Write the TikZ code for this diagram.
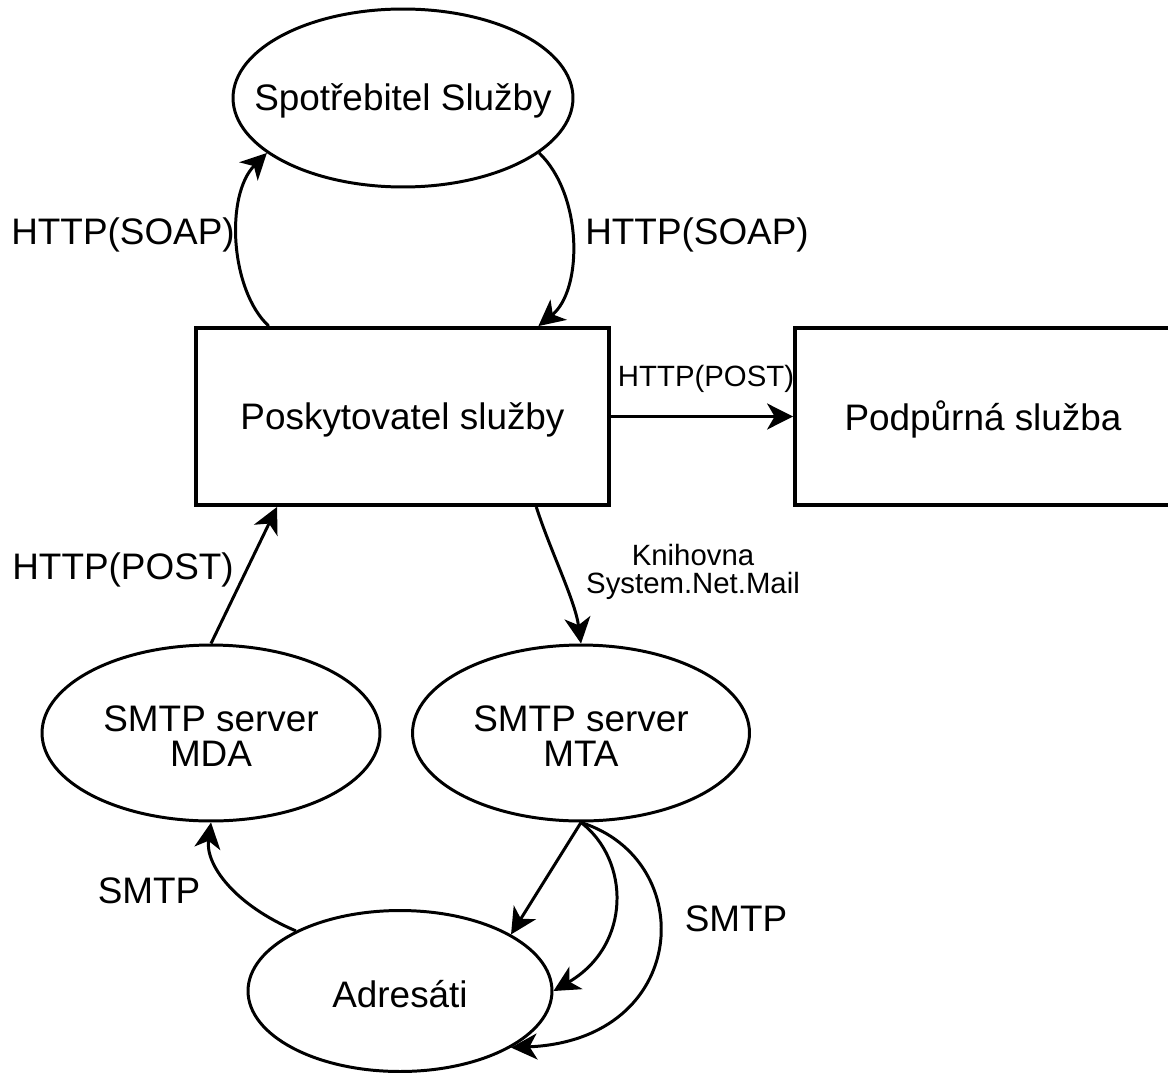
\documentclass[tikz,border=0pt]{standalone}
\usepackage{fontspec}
\setmainfont{Liberation Sans}
\usetikzlibrary{shapes.geometric,arrows.meta,calc}
\begin{document}
\begin{tikzpicture}[x=0.02cm,y=-0.02cm,
  ell/.style={ellipse,draw,line width=1.7pt,inner sep=0pt},
  box/.style={rectangle,draw,line width=2.2pt,inner sep=0pt},
  big/.style={font=\fontsize{21}{19.5}\selectfont,align=center,inner sep=0pt,yshift=-0.06cm},
  small/.style={font=\fontsize{16.7}{16}\selectfont,align=center,inner sep=0pt,yshift=-0.05cm},
  conn/.style={line width=1.7pt,-{Stealth[length=0.52cm,width=0.52cm,inset=0.15cm]}}]
\useasboundingbox (0,0) rectangle (1168,1074);
\clip (0,0) rectangle (1168,1074);

% shapes
\node[ell,minimum width=6.8cm,minimum height=3.56cm] (spot) at (403,98) {};
\node[big] (spott) at (spot) {Spotřebitel Služby};
\node[box,minimum width=8.26cm,minimum height=3.54cm] (prov) at (402.5,416.5) {};
\node[big] (provt) at (prov) {Poskytovatel služby};
\node[box,minimum width=7.52cm,minimum height=3.54cm] (supp) at (983,416.5) {};
\node[big] (suppt) at (supp) {Podpůrná služba};
\node[ell,minimum width=6.76cm,minimum height=3.52cm] (mda) at (211,733) {};
\node[big] (mdat) at (mda) {SMTP server\\MDA};
\node[ell,minimum width=6.74cm,minimum height=3.52cm] (mta) at (581,733) {};
\node[big] (mtat) at (mta) {SMTP server\\MTA};
\node[ell,minimum width=6.08cm,minimum height=3.22cm] (adr) at (400,991) {};
\node[big] (adrt) at (adr) {Adresáti};

% connectors
\draw[conn] ($(prov.north west)!0.179!(prov.north east)$) .. controls (230,290) and (225,195) .. (spot.202);
\draw[conn] (spot.338) .. controls (583,195) and (583,290) .. ($(prov.north west)!0.826!(prov.north east)$);
\draw[conn] (prov.east) -- (supp.west);
\draw[conn] ($(prov.south west)!0.821!(prov.south east)$) .. controls (550,550) and (575,600) .. (mta.north);
\draw[conn] (mda.north) -- ($(prov.south west)!0.199!(prov.south east)$);
\draw[conn] (mta.south) -- (adr.27);
\draw[conn] (mta.south) .. controls (630,860) and (632,945) .. (adr.east);
\draw[conn] (mta.south) .. controls (700,860) and (690,1040) .. (adr.333);
\draw[conn] (adr.150) .. controls (235,905) and (205,865) .. (mda.south);

% labels
\node[big] (l1) at (123,232) {HTTP(SOAP)};
\node[big] (l2) at (697,232) {HTTP(SOAP)};
\node[small] (l3) at (706,376) {HTTP(POST)};
\node[small] (l4) at (693,569) {Knihovna\\System.Net.Mail};
\node[big] (l5) at (123,567) {HTTP(POST)};
\node[big] (l6) at (149,888) {SMTP};
\node[big] (l7) at (736,916) {SMTP};
\end{tikzpicture}
\end{document}
